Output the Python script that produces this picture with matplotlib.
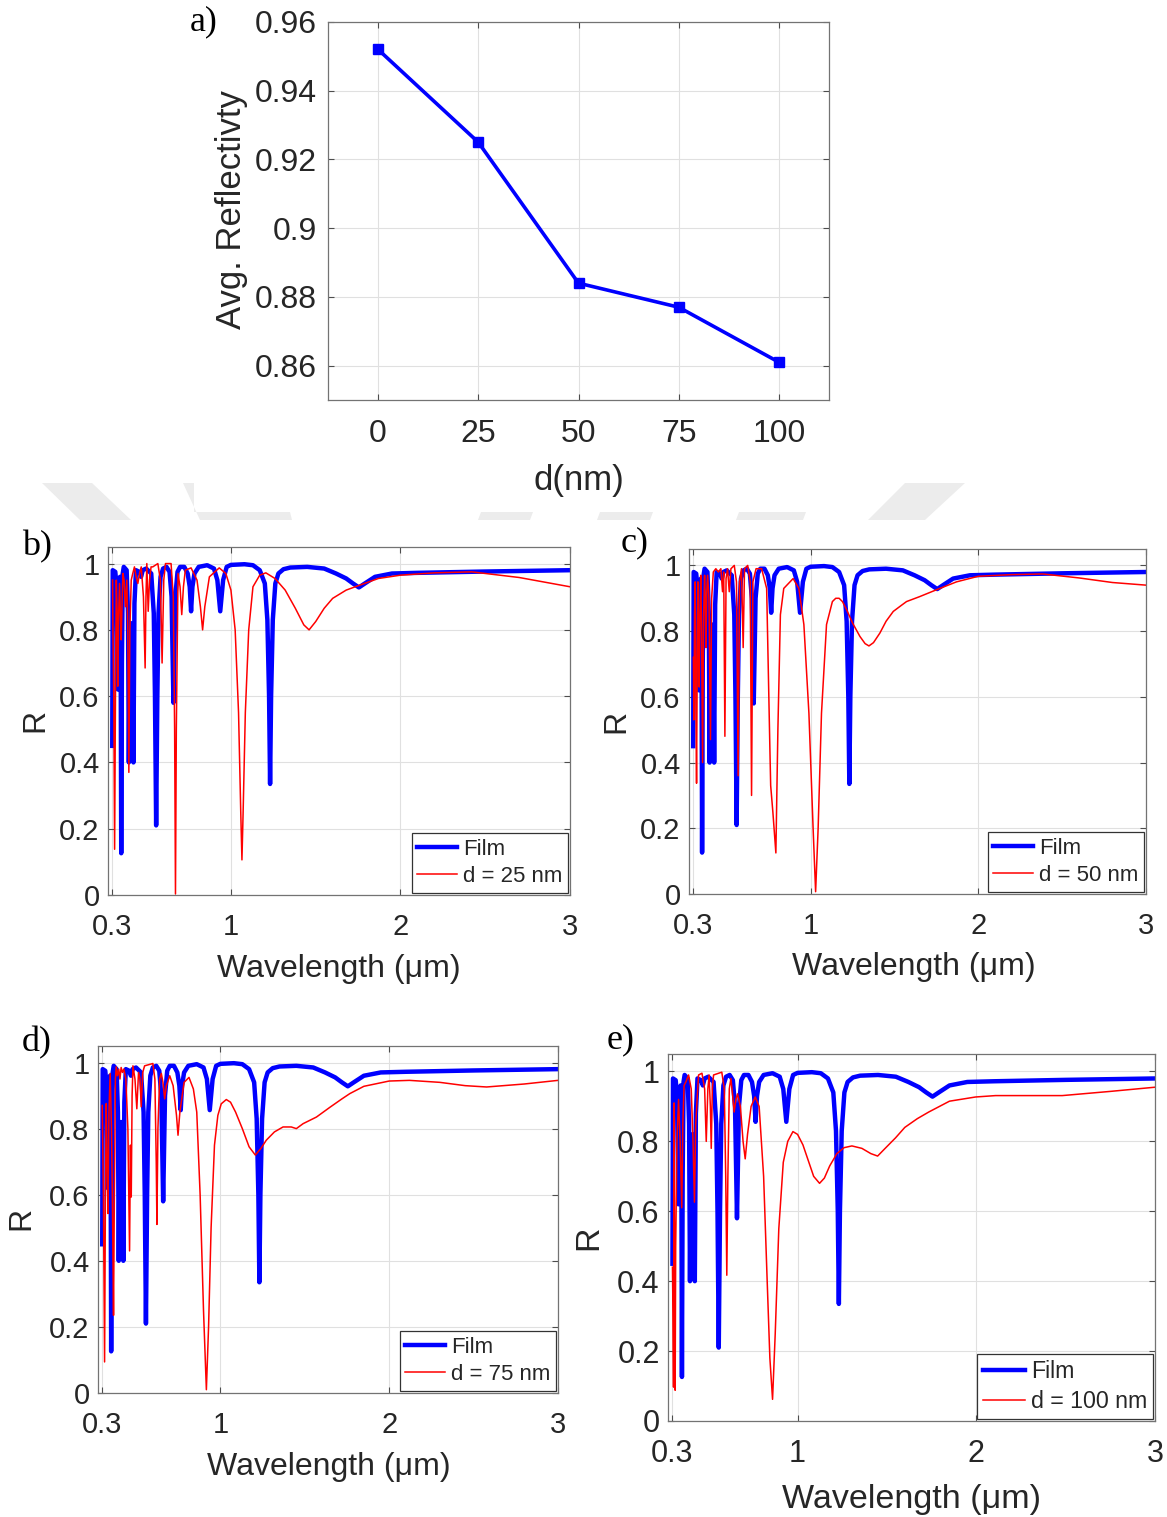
import matplotlib.pyplot as plt
from matplotlib.patches import Polygon

W, H = 1167, 1517

## Panel a: average reflectivity vs layer thickness
d_nm = [0, 25, 50, 75, 100]
avg_refl = [0.952, 0.925, 0.884, 0.877, 0.861]

## Film reference spectrum (same curve in every panel)
film_wl = [0.300, 0.303, 0.318, 0.326, 0.333, 0.339, 0.346, 0.350, 0.353, 0.357,
           0.362, 0.368, 0.385, 0.393, 0.398, 0.404, 0.412, 0.419, 0.425, 0.431,
           0.440, 0.460, 0.470, 0.480, 0.500, 0.530, 0.545, 0.552, 0.559, 0.566,
           0.573, 0.585, 0.600, 0.620, 0.638, 0.650, 0.661, 0.672, 0.685, 0.700,
           0.725, 0.745, 0.757, 0.765, 0.773, 0.785, 0.810, 0.860, 0.900, 0.920,
           0.937, 0.954, 0.975, 1.000, 1.080, 1.130, 1.170, 1.200, 1.215, 1.225,
           1.231, 1.237, 1.247, 1.262, 1.280, 1.310, 1.350, 1.450, 1.550, 1.620,
           1.680, 1.720, 1.755, 1.790, 1.850, 1.950, 2.100, 2.500, 3.000]
film_R = [0.45, 0.98, 0.975, 0.93, 0.62, 0.95, 0.96, 0.70, 0.126, 0.70,
          0.97, 0.99, 0.98, 0.85, 0.40, 0.80, 0.82, 0.80, 0.40, 0.88,
          0.98, 0.975, 0.96, 0.98, 0.985, 0.97, 0.85, 0.60, 0.21, 0.60,
          0.85, 0.96, 0.985, 0.99, 0.975, 0.90, 0.58, 0.90, 0.975, 0.99,
          0.99, 0.97, 0.93, 0.856, 0.93, 0.97, 0.99, 0.995, 0.985, 0.95,
          0.856, 0.95, 0.99, 0.996, 0.998, 0.995, 0.98, 0.94, 0.83, 0.60,
          0.335, 0.60, 0.83, 0.94, 0.97, 0.983, 0.988, 0.99, 0.985, 0.97,
          0.955, 0.94, 0.928, 0.94, 0.96, 0.97, 0.972, 0.976, 0.98]

## d = 25 nm
wl_25 = [0.302, 0.304, 0.309, 0.314, 0.319, 0.324, 0.329, 0.333, 0.338, 0.343,
         0.348, 0.353, 0.358, 0.363, 0.370, 0.378, 0.386, 0.392, 0.398, 0.404,
         0.412, 0.421, 0.431, 0.441, 0.451, 0.461, 0.471, 0.484, 0.494, 0.499,
         0.504, 0.512, 0.520, 0.529, 0.539, 0.569, 0.584, 0.594, 0.604, 0.614,
         0.647, 0.660, 0.668, 0.673, 0.678, 0.688, 0.700, 0.710, 0.720, 0.731,
         0.765, 0.800, 0.820, 0.833, 0.846, 0.873, 0.931, 0.970, 1.000, 1.025,
         1.045, 1.058, 1.065, 1.072, 1.085, 1.105, 1.130, 1.170, 1.206, 1.260,
         1.320, 1.380, 1.430, 1.461, 1.500, 1.550, 1.600, 1.680, 1.755, 1.870,
         2.000, 2.200, 2.420, 2.700, 3.000]
R_25 = [0.95, 0.80, 0.60, 0.138, 0.60, 0.95, 0.85, 0.63, 0.85, 0.94,
        0.85, 0.77, 0.88, 0.97, 0.95, 0.87, 0.95, 0.80, 0.37, 0.80,
        0.95, 0.97, 0.99, 0.96, 0.94, 0.97, 0.99, 0.90, 0.685, 0.90,
        1.0, 0.856, 0.95, 0.99, 0.99, 1.0, 0.95, 0.70, 0.95, 1.0,
        1.0, 0.90, 0.50, 0.003, 0.50, 0.97, 0.93, 0.846, 0.93, 0.98,
        0.987, 0.95, 0.87, 0.80, 0.87, 0.96, 0.987, 0.97, 0.92, 0.80,
        0.55, 0.25, 0.106, 0.25, 0.55, 0.80, 0.93, 0.965, 0.972, 0.955,
        0.92, 0.865, 0.815, 0.80, 0.825, 0.865, 0.895, 0.92, 0.934, 0.955,
        0.965, 0.972, 0.975, 0.958, 0.93]

## d = 50 nm
wl_50 = [0.301, 0.304, 0.308, 0.312, 0.316, 0.320, 0.324, 0.328, 0.332, 0.336,
         0.340, 0.345, 0.350, 0.356, 0.362, 0.368, 0.372, 0.376, 0.381, 0.386,
         0.394, 0.403, 0.410, 0.420, 0.435, 0.450, 0.465, 0.475, 0.482, 0.489,
         0.496, 0.505, 0.515, 0.525, 0.545, 0.558, 0.568, 0.576, 0.588, 0.598,
         0.606, 0.625, 0.640, 0.648, 0.656, 0.675, 0.708, 0.738, 0.757, 0.762,
         0.775, 0.793, 0.805, 0.820, 0.840, 0.896, 0.930, 0.960, 0.990, 1.015,
         1.030, 1.045, 1.065, 1.095, 1.130, 1.150, 1.170, 1.190, 1.215, 1.250,
         1.294, 1.325, 1.348, 1.375, 1.413, 1.450, 1.493, 1.540, 1.572, 1.650,
         1.751, 1.870, 2.000, 2.200, 2.385, 2.600, 2.800, 3.000]
R_50 = [0.72, 0.53, 0.85, 0.95, 0.60, 0.337, 0.70, 0.95, 0.80, 0.63,
        0.85, 0.97, 0.80, 0.40, 0.85, 0.97, 0.88, 0.75, 0.92, 0.97,
        0.90, 0.47, 0.90, 0.98, 0.99, 0.98, 0.99, 0.92, 0.98, 0.48,
        0.96, 0.99, 0.92, 0.99, 1.0, 0.95, 0.36, 0.95, 0.99, 0.75,
        0.99, 1.0, 0.95, 0.30, 0.95, 0.99, 0.99, 0.93, 0.45, 0.33,
        0.25, 0.125, 0.50, 0.85, 0.93, 0.96, 0.93, 0.82, 0.55, 0.20,
        0.007, 0.20, 0.55, 0.82, 0.89, 0.90, 0.90, 0.89, 0.865, 0.825,
        0.784, 0.762, 0.755, 0.765, 0.794, 0.83, 0.86, 0.878, 0.89, 0.905,
        0.926, 0.95, 0.967, 0.972, 0.974, 0.962, 0.948, 0.94]

## d = 75 nm
wl_75 = [0.300, 0.307, 0.314, 0.319, 0.324, 0.329, 0.334, 0.340, 0.347, 0.355,
         0.362, 0.367, 0.372, 0.378, 0.383, 0.390, 0.398, 0.405, 0.412, 0.420,
         0.428, 0.440, 0.452, 0.462, 0.467, 0.472, 0.477, 0.482, 0.494, 0.505,
         0.515, 0.524, 0.531, 0.540, 0.551, 0.600, 0.612, 0.620, 0.624, 0.630,
         0.640, 0.650, 0.660, 0.670, 0.680, 0.700, 0.720, 0.740, 0.749, 0.760,
         0.785, 0.814, 0.840, 0.860, 0.880, 0.900, 0.917, 0.930, 0.945, 0.965,
         0.985, 1.005, 1.035, 1.060, 1.090, 1.130, 1.170, 1.207, 1.240, 1.272,
         1.320, 1.371, 1.420, 1.450, 1.490, 1.569, 1.650, 1.720, 1.767, 1.850,
         2.000, 2.120, 2.300, 2.450, 2.577, 2.800, 3.000]
R_75 = [0.87, 0.60, 0.094, 0.60, 0.876, 0.70, 0.543, 0.85, 0.967, 0.80,
        0.50, 0.235, 0.60, 0.95, 0.987, 0.96, 0.98, 0.95, 0.985, 0.97,
        0.98, 0.95, 0.80, 0.43, 0.75, 0.593, 0.90, 0.99, 0.95, 0.86,
        0.97, 0.95, 0.866, 0.97, 0.99, 0.997, 0.95, 0.70, 0.51, 0.80,
        0.95, 0.967, 0.94, 0.89, 0.93, 0.96, 0.93, 0.84, 0.78, 0.85,
        0.94, 0.955, 0.92, 0.85, 0.60, 0.25, 0.01, 0.20, 0.50, 0.75,
        0.84, 0.875, 0.888, 0.88, 0.85, 0.80, 0.745, 0.72, 0.74, 0.765,
        0.79, 0.805, 0.805, 0.80, 0.815, 0.835, 0.865, 0.89, 0.906, 0.928,
        0.944, 0.946, 0.94, 0.93, 0.926, 0.935, 0.946]

## d = 100 nm
wl_100 = [0.300, 0.303, 0.306, 0.309, 0.312, 0.315, 0.318, 0.320, 0.325, 0.334,
          0.343, 0.352, 0.358, 0.365, 0.375, 0.390, 0.405, 0.415, 0.423, 0.430,
          0.446, 0.465, 0.480, 0.489, 0.498, 0.505, 0.512, 0.517, 0.523, 0.530,
          0.576, 0.590, 0.598, 0.604, 0.610, 0.618, 0.627, 0.637, 0.645, 0.655,
          0.664, 0.680, 0.695, 0.707, 0.720, 0.740, 0.763, 0.785, 0.810, 0.830,
          0.845, 0.860, 0.875, 0.895, 0.920, 0.945, 0.974, 1.000, 1.030, 1.060,
          1.090, 1.123, 1.150, 1.180, 1.220, 1.260, 1.304, 1.360, 1.410, 1.448,
          1.490, 1.548, 1.600, 1.670, 1.734, 1.850, 1.996, 2.108, 2.481, 2.750,
          3.000]
R_100 = [0.44, 0.30, 0.097, 0.91, 0.40, 0.088, 0.50, 0.58, 0.80, 0.92,
         0.80, 0.61, 0.85, 0.96, 0.97, 0.99, 0.95, 0.80, 0.626, 0.85,
         0.99, 0.995, 0.95, 0.80, 0.95, 0.99, 0.90, 0.78, 0.95, 0.99,
         0.998, 0.95, 0.70, 0.417, 0.70, 0.95, 0.98, 0.93, 0.884, 0.92,
         0.936, 0.90, 0.80, 0.75, 0.82, 0.90, 0.927, 0.90, 0.70, 0.40,
         0.18, 0.062, 0.25, 0.55, 0.74, 0.80, 0.828, 0.82, 0.79, 0.745,
         0.70, 0.68, 0.695, 0.73, 0.765, 0.782, 0.787, 0.78, 0.765, 0.758,
         0.78, 0.81, 0.84, 0.865, 0.884, 0.915, 0.927, 0.931, 0.931, 0.943,
         0.955]

wl_ticks = [0.3, 1, 2, 3]
wl_ticklabels = ['0.3', '1', '2', '3']
r_ticks = [0, 0.2, 0.4, 0.6, 0.8, 1]
r_ticklabels = ['0', '0.2', '0.4', '0.6', '0.8', '1']

plt.rcParams['font.family'] = ['Liberation Sans', 'DejaVu Sans']
TXT = '0.15'


def box(l, t, r, b):
    return [l / W, 1 - b / H, (r - l) / W, (b - t) / H]


def style(ax, fs, xpad, ypad):
    ax.tick_params(direction='in', top=True, right=True, length=4, width=0.8,
                   color='0.3', labelcolor=TXT, labelsize=fs)
    ax.tick_params(axis='x', pad=xpad)
    ax.tick_params(axis='y', pad=ypad)
    ax.grid(True, color='0.88', lw=0.8)
    ax.set_axisbelow(True)
    for s in ax.spines.values():
        s.set_color('0.45')
        s.set_linewidth(0.9)


fig = plt.figure(figsize=(W / 100, H / 100), dpi=100)

# faint watermark pieces
wm_color = '#ececec'
wm_shapes = [
    [(42, 483), (92, 483), (131, 520), (80, 520)],
    [(183, 483), (194, 483), (194, 512), (290, 512), (292, 520), (200, 520)],
    [(481, 512), (533, 512), (530, 520), (478, 520)],
    [(600, 512), (653, 512), (650, 520), (597, 520)],
    [(739, 512), (806, 512), (803, 520), (736, 520)],
    [(905, 483), (965, 483), (925, 520), (868, 520)],
]
for pts in wm_shapes:
    fig.patches.append(Polygon([(x / W, 1 - y / H) for x, y in pts], closed=True,
                               transform=fig.transFigure, facecolor=wm_color,
                               edgecolor='none', zorder=0))

# ---- panel a ----
ax = fig.add_axes(box(328, 22, 829, 400))
ax.plot(d_nm, avg_refl, '-s', color='b', lw=2.6, ms=6.5, mfc='b', mec='b')
ax.set_xlim(-12.5, 112.5)
ax.set_ylim(0.85, 0.96)
ax.set_xticks(d_nm)
ax.set_xticklabels([str(v) for v in d_nm])
ax.set_yticks([0.86, 0.88, 0.90, 0.92, 0.94, 0.96])
ax.set_yticklabels(['0.86', '0.88', '0.9', '0.92', '0.94', '0.96'])
style(ax, 23, 14, 8)
ax.set_xlabel('d(nm)', fontsize=25, color=TXT)
ax.set_ylabel('Avg. Reflectivty', fontsize=25, color=TXT)
ax.xaxis.set_label_coords(0.5, -0.169)
ax.yaxis.set_label_coords(-0.16, 0.503)
fig.text(190 / W, 1 - 22 / H, 'a)', fontsize=26, family='Liberation Serif',
         ha='left', va='center')

# ---- spectra panels ----
panels = [
    ((108, 547, 570, 895), wl_25, R_25, 'd = 25 nm', 'b)', (22, 547),
     21, 23, 16, (-0.125, 0.503), (0.5, -0.17)),
    ((689, 549, 1146, 894), wl_50, R_50, 'd = 50 nm', 'c)', (621, 543),
     21, 23, 16, (-0.127, 0.5), (0.492, -0.168)),
    ((98, 1046, 558, 1393), wl_75, R_75, 'd = 75 nm', 'd)', (22, 1043),
     21, 23, 16, (-0.135, 0.504), (0.501, -0.17)),
    ((668, 1054, 1155, 1421), wl_100, R_100, 'd = 100 nm', 'e)', (607, 1040),
     22, 24.5, 16.7, (-0.131, 0.499), (0.499, -0.172)),
]

for (rect, wl, R, lab, letter, lpos, tfs, lfs, legfs, ylc, xlc) in panels:
    ax = fig.add_axes(box(*rect))
    ax.plot(film_wl, film_R, color='b', lw=3.2, label='Film',
            solid_joinstyle='round')
    ax.plot(wl, R, color='r', lw=1.1, label=lab, solid_joinstyle='round')
    ax.set_xlim(0.275, 3.0)
    ax.set_ylim(0, 1.05)
    ax.set_xticks(wl_ticks)
    ax.set_xticklabels(wl_ticklabels)
    ax.set_yticks(r_ticks)
    ax.set_yticklabels(r_ticklabels)
    style(ax, tfs, 13, 6)
    ax.set_xlabel('Wavelength (μm)', fontsize=lfs, color=TXT)
    ax.set_ylabel('R', fontsize=lfs, color=TXT)
    ax.yaxis.set_label_coords(*ylc)
    ax.xaxis.set_label_coords(*xlc)
    leg = ax.legend(loc='lower right', fontsize=legfs, fancybox=False,
                    framealpha=1, edgecolor='0.2', borderaxespad=0.1,
                    handlelength=1.8, handletextpad=0.25, labelspacing=0.3,
                    borderpad=0.25)
    leg.get_frame().set_linewidth(0.9)
    for t in leg.get_texts():
        t.set_color(TXT)
    fig.text(lpos[0] / W, 1 - lpos[1] / H, letter, fontsize=26,
             family='Liberation Serif', ha='left', va='center')

fig.savefig('out.png', dpi=100)
